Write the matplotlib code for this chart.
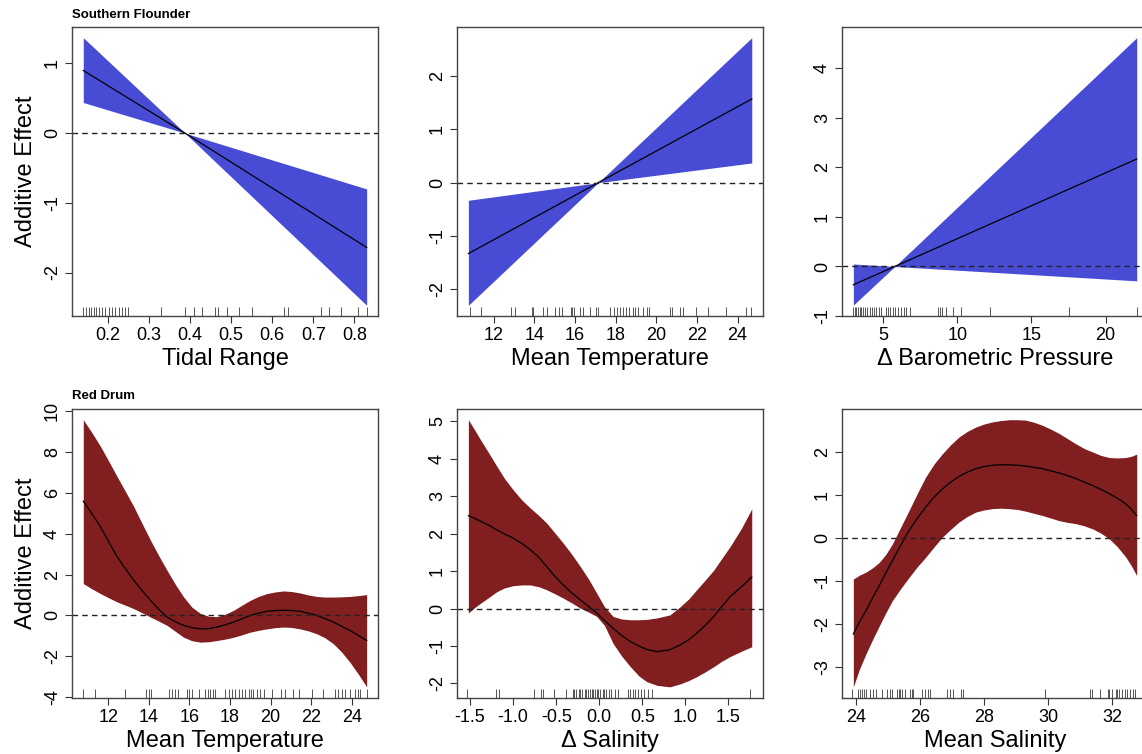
import numpy as np
import matplotlib
matplotlib.use("Agg")
import matplotlib.pyplot as plt
import matplotlib.transforms as mtransforms

plt.rcParams['font.family'] = ['Liberation Sans', 'DejaVu Sans']
plt.rcParams['axes.unicode_minus'] = False

BLUE = '#484CD4'
RED = '#801E20'

# ---- Southern Flounder (linear terms: ends and zero crossing) ----
tide_x = [0.14, 0.388, 0.83]
tide_fit = [0.90, 0.0, -1.64]
tide_lo = [0.44, 0.0, -2.47]
tide_hi = [1.37, 0.0, -0.80]
tide_rug = [0.139, 0.146, 0.153, 0.159, 0.166, 0.172, 0.179, 0.185, 0.194, 0.202,
            0.21, 0.218, 0.226, 0.234, 0.242, 0.25, 0.329, 0.388, 0.409, 0.429,
            0.46, 0.467, 0.49, 0.518, 0.551, 0.629, 0.638, 0.719, 0.739, 0.768,
            0.809, 0.83]

sftemp_x = [10.75, 17.14, 24.7]
sftemp_fit = [-1.33, 0.0, 1.57]
sftemp_lo = [-2.30, 0.0, 0.37]
sftemp_hi = [-0.33, 0.0, 2.72]
sftemp_rug = [10.81, 11.35, 12.85, 13.04, 13.86, 13.92, 14.44, 14.61, 15.01, 15.21,
              15.34, 15.78, 15.86, 15.94, 16.27, 16.4, 16.72, 17.05, 17.11, 17.73,
              17.94, 18.06, 18.22, 18.38, 18.51, 18.68, 18.84, 18.95, 19.12, 19.36,
              19.52, 19.65, 20.66, 20.79, 21.15, 21.32, 21.97, 22.54, 23.43, 24.41,
              24.65]

baro_x = [3.0, 5.79, 22.1]
baro_fit = [-0.37, 0.0, 2.17]
baro_lo = [-0.78, 0.0, -0.29]
baro_hi = [0.05, 0.0, 4.62]
baro_rug = [2.98, 3.09, 3.2, 3.32, 3.43, 3.54, 3.65, 3.81, 3.94, 4.1, 4.26, 4.39,
            4.55, 4.71, 4.84, 5.22, 5.34, 5.45, 5.67, 5.83, 6.01, 6.24, 6.41, 6.57,
            6.8, 8.71, 8.86, 9.0, 9.27, 9.72, 10.28, 12.19, 17.51, 22.11]

# ---- Red Drum (smooth terms) ----
rdtemp_x = [10.77, 11.2, 11.62, 12.03, 12.44, 12.85, 13.26, 13.67, 14.08, 14.49,
            14.9, 15.31, 15.72, 16.13, 16.54, 16.95, 17.36, 17.77, 18.18, 18.59,
            19.0, 19.41, 19.82, 20.23, 20.64, 21.05, 21.46, 21.87, 22.28, 22.69,
            23.1, 23.51, 23.92, 24.33, 24.74]
rdtemp_fit = [5.6, 4.98, 4.34, 3.6, 2.87, 2.28, 1.72, 1.21, 0.74, 0.3,
              -0.08, -0.31, -0.49, -0.6, -0.66, -0.65, -0.57, -0.46, -0.33, -0.17,
              0.0, 0.11, 0.2, 0.24, 0.25, 0.24, 0.2, 0.11, 0.0, -0.16,
              -0.33, -0.53, -0.74, -0.98, -1.23]
rdtemp_hi = [9.59, 8.95, 8.28, 7.55, 6.8, 6.07, 5.33, 4.5, 3.69, 2.93,
             2.21, 1.52, 0.9, 0.4, 0.1, -0.04, -0.06, 0.06, 0.25, 0.5,
             0.74, 0.93, 1.07, 1.15, 1.2, 1.17, 1.1, 1.0, 0.93, 0.9,
             0.9, 0.91, 0.93, 0.97, 1.02]
rdtemp_lo = [1.56, 1.3, 1.07, 0.86, 0.66, 0.5, 0.33, 0.13, -0.08, -0.28,
             -0.49, -0.78, -1.07, -1.24, -1.31, -1.29, -1.23, -1.16, -1.07, -0.95,
             -0.82, -0.73, -0.66, -0.6, -0.57, -0.59, -0.66, -0.76, -0.9, -1.1,
             -1.39, -1.8, -2.3, -2.88, -3.5]
rdtemp_rug = [10.77, 11.33, 12.82, 13.87, 14.0, 14.13, 15.02, 15.15, 15.31, 15.44,
              15.89, 16.0, 16.13, 16.46, 16.79, 16.92, 17.03, 17.15, 17.28, 17.77,
              17.93, 18.1, 18.26, 18.43, 18.59, 18.75, 18.92, 19.05, 19.16, 19.33,
              19.49, 19.66, 20.07, 20.52, 20.72, 21.13, 21.38, 22.03, 22.61, 23.18,
              23.34, 23.51, 23.67, 23.92, 24.16, 24.3, 24.41, 24.74]

dsal_x = [-1.52, -1.45, -1.38, -1.28, -1.19, -1.1, -1.0, -0.9, -0.8, -0.7,
          -0.61, -0.52, -0.42, -0.32, -0.22, -0.12, -0.03, 0.06, 0.16, 0.26,
          0.36, 0.46, 0.55, 0.67, 0.82, 0.94, 1.04, 1.13, 1.23, 1.33,
          1.42, 1.52, 1.65, 1.77]
dsal_fit = [2.48, 2.41, 2.33, 2.22, 2.1, 1.99, 1.88, 1.74, 1.57, 1.36,
            1.12, 0.87, 0.63, 0.42, 0.23, 0.05, -0.12, -0.32, -0.53, -0.72,
            -0.88, -1.0, -1.09, -1.15, -1.1, -0.97, -0.83, -0.66, -0.45, -0.21,
            0.05, 0.32, 0.58, 0.84]
dsal_hi = [5.04, 4.78, 4.51, 4.14, 3.8, 3.47, 3.17, 2.9, 2.68, 2.48,
           2.28, 2.03, 1.75, 1.45, 1.12, 0.77, 0.41, 0.05, -0.21, -0.28,
           -0.3, -0.3, -0.29, -0.25, -0.17, 0.05, 0.26, 0.5, 0.76, 1.03,
           1.33, 1.66, 2.14, 2.66]
dsal_lo = [-0.12, 0.02, 0.14, 0.3, 0.45, 0.55, 0.61, 0.63, 0.63, 0.58,
           0.5, 0.4, 0.28, 0.15, 0.01, -0.1, -0.21, -0.45, -0.93, -1.27,
           -1.55, -1.8, -1.95, -2.05, -2.09, -2.01, -1.92, -1.82, -1.69, -1.55,
           -1.41, -1.28, -1.14, -1.02]
dsal_rug = [-1.54, -1.2, -1.16, -0.76, -0.68, -0.65, -0.53, -0.39, -0.31, -0.29,
            -0.27, -0.24, -0.22, -0.2, -0.17, -0.15, -0.13, -0.11, -0.09, -0.07,
            -0.05, -0.03, -0.01, 0.01, 0.04, 0.06, 0.08, 0.11, 0.14, 0.18, 0.22,
            0.33, 0.36, 0.39, 0.42, 0.45, 0.49, 0.52, 0.56, 0.61, 1.75]

msal_x = [23.92, 24.11, 24.31, 24.52, 24.73, 24.93, 25.14, 25.4, 25.66, 25.92,
          26.18, 26.44, 26.7, 26.96, 27.22, 27.48, 27.74, 28.0, 28.26, 28.52,
          28.78, 29.04, 29.3, 29.56, 29.82, 30.08, 30.34, 30.6, 30.86, 31.12,
          31.38, 31.64, 31.9, 32.16, 32.42, 32.6, 32.76]
msal_fit = [-2.24, -1.96, -1.7, -1.4, -1.11, -0.82, -0.53, -0.17, 0.17, 0.46,
            0.72, 0.95, 1.14, 1.3, 1.43, 1.53, 1.61, 1.66, 1.69, 1.7,
            1.7, 1.69, 1.67, 1.64, 1.61, 1.56, 1.51, 1.45, 1.38, 1.3,
            1.22, 1.13, 1.03, 0.92, 0.79, 0.66, 0.52]
msal_hi = [-0.96, -0.87, -0.8, -0.7, -0.57, -0.39, -0.14, 0.25, 0.64, 1.04,
           1.42, 1.72, 1.96, 2.17, 2.35, 2.48, 2.58, 2.65, 2.7, 2.73,
           2.75, 2.75, 2.74, 2.69, 2.62, 2.53, 2.43, 2.31, 2.19, 2.08,
           2.0, 1.92, 1.87, 1.86, 1.87, 1.9, 1.95]
msal_lo = [-3.47, -3.06, -2.71, -2.37, -2.05, -1.75, -1.46, -1.18, -0.92, -0.67,
           -0.45, -0.21, 0.02, 0.2, 0.37, 0.5, 0.6, 0.65, 0.68, 0.69,
           0.68, 0.66, 0.62, 0.57, 0.52, 0.46, 0.4, 0.36, 0.33, 0.28,
           0.21, 0.11, -0.02, -0.21, -0.45, -0.66, -0.88]
msal_rug = [23.88, 24.08, 24.13, 24.19, 24.24, 24.32, 24.43, 24.53, 24.63, 24.81,
            24.96, 25.05, 25.12, 25.28, 25.33, 25.38, 25.43, 25.54, 25.69, 25.74,
            25.79, 26.05, 26.16, 26.24, 26.31, 26.85, 26.94, 27.04, 27.27, 27.35,
            29.89, 31.29, 31.38, 31.6, 31.86, 31.91, 32.0, 32.1, 32.14, 32.2,
            32.31, 32.38, 32.45, 32.54, 32.64, 32.72]

fig = plt.figure(figsize=(11.42, 7.54), dpi=100)

cols = [0.063, 0.4002, 0.7373]
w = 0.268
rows = [(0.5809, 0.3833), (0.0749, 0.3826)]

panels = [
    (tide_x, tide_fit, tide_lo, tide_hi, tide_rug, BLUE, 'Tidal Range',
     np.arange(0.2, 0.81, 0.1), '%.1f', np.arange(-2, 2, 1)),
    (sftemp_x, sftemp_fit, sftemp_lo, sftemp_hi, sftemp_rug, BLUE, 'Mean Temperature',
     np.arange(12, 25, 2), '%d', np.arange(-2, 3, 1)),
    (baro_x, baro_fit, baro_lo, baro_hi, baro_rug, BLUE, '\u0394 Barometric Pressure',
     np.arange(5, 21, 5), '%d', np.arange(-1, 5, 1)),
    (rdtemp_x, rdtemp_fit, rdtemp_lo, rdtemp_hi, rdtemp_rug, RED, 'Mean Temperature',
     np.arange(12, 25, 2), '%d', np.arange(-4, 11, 2)),
    (dsal_x, dsal_fit, dsal_lo, dsal_hi, dsal_rug, RED, '\u0394 Salinity',
     np.arange(-1.5, 1.6, 0.5), '%.1f', np.arange(-2, 6, 1)),
    (msal_x, msal_fit, msal_lo, msal_hi, msal_rug, RED, 'Mean Salinity',
     np.arange(24, 33, 2), '%d', np.arange(-3, 3, 1)),
]

for i, (x, fit, lo, hi, rug, col, xlab, xt, fmt, yt) in enumerate(panels):
    r, c = divmod(i, 3)
    ax = fig.add_axes([cols[c], rows[r][0], w, rows[r][1]])
    ax.fill_between(x, lo, hi, color=col, linewidth=0)
    ax.plot(x, fit, color='black', lw=0.9)
    ax.axhline(0, color='#222222', lw=1.0, ls=(0, (4, 3)))
    trans = mtransforms.blended_transform_factory(ax.transData, ax.transAxes)
    ax.vlines(rug, 0, 0.03, transform=trans, color='#555555', lw=0.7)

    xmin, xmax = min(x), max(x)
    ymin, ymax = min(lo), max(hi)
    dx, dy = (xmax - xmin) * 0.04, (ymax - ymin) * 0.04
    ax.set_xlim(xmin - dx, xmax + dx)
    ax.set_ylim(ymin - dy, ymax + dy)

    ax.set_xticks(xt)
    ax.set_xticklabels([fmt % v for v in xt])
    ax.set_yticks(yt)
    ax.set_yticklabels(['%d' % v for v in yt], rotation=90, va='center')
    ax.tick_params(direction='out', length=5, width=0.8, color='#333333',
                   labelsize=13, pad=3)
    for s in ax.spines.values():
        s.set_color('#444444')
        s.set_linewidth(1.0)
    ax.set_xlabel(xlab, fontsize=17, labelpad=3)
    if c == 0:
        ax.set_ylabel('Additive Effect', fontsize=17, labelpad=5)

fig.text(0.063, 1 - 15 / 754, 'Southern Flounder', fontsize=9.5, fontweight='bold',
         ha='left', va='center')
fig.text(0.063, 1 - 396 / 754, 'Red Drum', fontsize=9.5, fontweight='bold',
         ha='left', va='center')

fig.savefig('out.png', dpi=100)
